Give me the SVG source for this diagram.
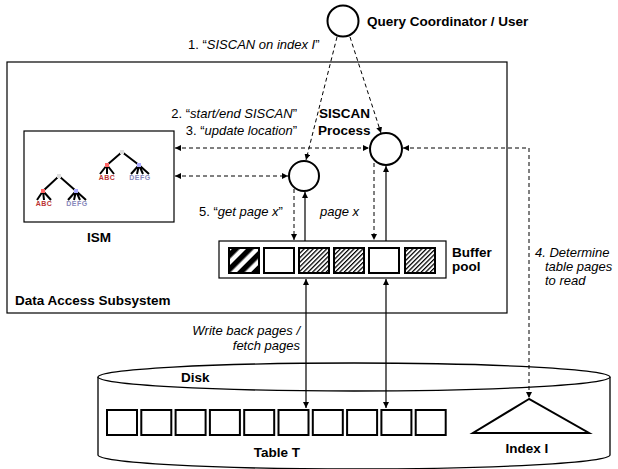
<svg xmlns="http://www.w3.org/2000/svg" width="618" height="469" viewBox="0 0 618 469">
  <style>
    text { font-family: "Liberation Sans", Arial, Helvetica, sans-serif; fill: #000; }
    .b { font-weight: bold; font-size: 13.5px; }
    .lbl { font-size: 13px; }
    .it { font-style: italic; }
    .box { fill: #fff; stroke: #000; stroke-width: 1.2; }
    .proc { fill: #fff; stroke: #000; stroke-width: 2; }
    .cell { stroke: #000; stroke-width: 2; }
    .dash { fill: none; stroke: #000; stroke-width: 1; stroke-dasharray: 4 3; }
    .solid { fill: none; stroke: #000; stroke-width: 1.2; }
    .br { stroke: #000; stroke-width: 2; fill: none; }
    .abc { font-size: 7px; font-weight: bold; fill: #b33; }
    .defg { font-size: 7px; font-weight: bold; fill: #88b; }
  </style>
  <defs>
    <marker id="ah" viewBox="0 0 6 6" refX="6" refY="3" markerWidth="6" markerHeight="6" markerUnits="userSpaceOnUse" orient="auto-start-reverse">
      <path d="M0,0 L6,3 L0,6 z" fill="#000"/>
    </marker>
    <pattern id="fine" patternUnits="userSpaceOnUse" width="3.2" height="3.2" patternTransform="rotate(45)">
      <rect width="3.2" height="3.2" fill="#fff"/>
      <line x1="0.6" y1="0" x2="0.6" y2="3.2" stroke="#000" stroke-width="1.3"/>
    </pattern>
    <pattern id="coarse" patternUnits="userSpaceOnUse" width="10" height="10" patternTransform="rotate(45)">
      <rect width="10" height="10" fill="#fff"/>
      <rect width="5.5" height="10" fill="#000"/>
    </pattern>
  </defs>

  <!-- Disk cylinder with table pages and index -->
  <g id="disk">
    <path d="M98,377 V455 A256,14 0 0 0 610,455 V377" fill="#fff" stroke="#000" stroke-width="1.3"/>
    <ellipse cx="354" cy="377" rx="256" ry="14" fill="#fff" stroke="#000" stroke-width="1.3"/>
    <text class="b" x="181" y="382">Disk</text>
  </g>

  <g id="table-t">
    <rect class="cell" x="107" y="410" width="30" height="25" fill="#fff"/>
    <rect class="cell" x="141.3" y="410" width="30" height="25" fill="#fff"/>
    <rect class="cell" x="175.6" y="410" width="30" height="25" fill="#fff"/>
    <rect class="cell" x="209.9" y="410" width="30" height="25" fill="#fff"/>
    <rect class="cell" x="244.2" y="410" width="30" height="25" fill="#fff"/>
    <rect class="cell" x="278.5" y="410" width="30" height="25" fill="#fff"/>
    <rect class="cell" x="312.8" y="410" width="30" height="25" fill="#fff"/>
    <rect class="cell" x="347.1" y="410" width="30" height="25" fill="#fff"/>
    <rect class="cell" x="381.4" y="410" width="30" height="25" fill="#fff"/>
    <rect class="cell" x="415.7" y="410" width="30" height="25" fill="#fff"/>
    <text class="b" x="277" y="457" text-anchor="middle">Table T</text>
  </g>

  <g id="index-i">
    <polygon points="529,399 473,433 589,433" fill="#fff" stroke="#000" stroke-width="2"/>
    <text class="b" x="527" y="453" text-anchor="middle">Index I</text>
  </g>

  <!-- Data access subsystem container -->
  <g id="data-access-subsystem">
    <rect class="box" x="7" y="62" width="500" height="251"/>
    <text class="b" x="15" y="305">Data Access Subsystem</text>
  </g>

  <!-- Index structure manager with two small trees -->
  <g id="ism">
    <rect class="box" x="24" y="131" width="150" height="91"/>
    <path class="br" d="M107,165 L122,152 L139,165 M107,165 L100,174 M107,165 L107,174 M107,165 L114,174 M139,165 L131,174 M139,165 L137,174 M139,165 L143,174 M139,165 L149,174"/>
    <rect x="120" y="150" width="4" height="4" fill="#ddd"/>
    <rect x="105" y="163" width="4" height="4" fill="#f66"/>
    <rect x="137" y="163" width="4" height="4" fill="#aaf"/>
    <text class="abc" x="107" y="180" text-anchor="middle" letter-spacing="0.5">ABC</text>
    <text class="defg" x="140" y="180" text-anchor="middle" letter-spacing="0.5">DEFG</text>
    <path class="br" d="M43,191 L59,176 L76,191 M43,191 L37,200 M43,191 L44,200 M43,191 L51,200 M76,191 L68,200 M76,191 L74,200 M76,191 L80,200 M76,191 L86,200"/>
    <rect x="57" y="174" width="4" height="4" fill="#ddd"/>
    <rect x="41" y="189" width="4" height="4" fill="#f66"/>
    <rect x="74" y="189" width="4" height="4" fill="#aaf"/>
    <text class="abc" x="44" y="206" text-anchor="middle" letter-spacing="0.5">ABC</text>
    <text class="defg" x="77" y="206" text-anchor="middle" letter-spacing="0.5">DEFG</text>
    <text class="b" x="99" y="242" text-anchor="middle">ISM</text>
  </g>

  <!-- Buffer pool frames -->
  <g id="buffer-pool">
    <rect class="box" x="219" y="241" width="227" height="37"/>
    <rect class="cell" x="229" y="248" width="30" height="25" fill="url(#coarse)"/>
    <rect class="cell" x="264" y="248" width="30" height="25" fill="#fff"/>
    <rect class="cell" x="299" y="248" width="30" height="25" fill="url(#fine)"/>
    <rect class="cell" x="334" y="248" width="30" height="25" fill="url(#fine)"/>
    <rect class="cell" x="369" y="248" width="30" height="25" fill="#fff"/>
    <rect class="cell" x="405" y="248" width="30" height="25" fill="url(#fine)"/>
    <text class="b" x="452" y="257">Buffer</text>
    <text class="b" x="452" y="271">pool</text>
  </g>

  <!-- Processes -->
  <g id="query-coordinator">
    <circle class="proc" cx="343" cy="21" r="15.5"/>
    <text class="b" x="367" y="26">Query Coordinator / User</text>
  </g>

  <g id="siscan-process-a">
    <circle class="proc" cx="304" cy="176" r="15"/>
  </g>

  <g id="siscan-process-b">
    <circle class="proc" cx="386" cy="149" r="16"/>
    <text class="b" x="319" y="118">SISCAN</text>
    <text class="b" x="318" y="135">Process</text>
  </g>

  <!-- Connectors -->
  <g id="connectors">
    <line class="dash" x1="337" y1="37" x2="306" y2="160" marker-end="url(#ah)"/>
    <line class="dash" x1="350" y1="37" x2="381" y2="133" marker-end="url(#ah)"/>
    <line class="dash" x1="175" y1="148" x2="369" y2="148" marker-start="url(#ah)" marker-end="url(#ah)"/>
    <line class="dash" x1="175" y1="176" x2="288" y2="176" marker-start="url(#ah)" marker-end="url(#ah)"/>
    <path class="dash" d="M403,148 H529 V398" marker-start="url(#ah)" marker-end="url(#ah)"/>
    <line class="dash" x1="294" y1="189" x2="294" y2="240" marker-end="url(#ah)"/>
    <line class="solid" x1="305" y1="241" x2="305" y2="192" marker-end="url(#ah)"/>
    <line class="dash" x1="374" y1="163" x2="374" y2="240" marker-end="url(#ah)"/>
    <line class="solid" x1="386" y1="241" x2="386" y2="166" marker-end="url(#ah)"/>
    <line class="solid" x1="306" y1="279" x2="306" y2="408" marker-start="url(#ah)" marker-end="url(#ah)"/>
    <line class="solid" x1="386" y1="279" x2="386" y2="408" marker-start="url(#ah)" marker-end="url(#ah)"/>
  </g>

  <!-- Step labels -->
  <g id="labels">
    <text class="lbl" x="188" y="49">1. “<tspan class="it">SISCAN on index I</tspan>”</text>
    <text class="lbl" x="297" y="118" text-anchor="end">2. “<tspan class="it">start/end SISCAN</tspan>”</text>
    <text class="lbl" x="297" y="135" text-anchor="end">3. “<tspan class="it">update location</tspan>”</text>
    <text class="lbl" x="199" y="216">5. “<tspan class="it">get page x</tspan>”</text>
    <text class="lbl it" x="320" y="216">page x</text>
    <text class="lbl it" x="535" y="257">4. Determine</text>
    <text class="lbl it" x="545" y="271">table pages</text>
    <text class="lbl it" x="545" y="285">to read</text>
    <text class="lbl it" x="300" y="335" text-anchor="end">Write back pages /</text>
    <text class="lbl it" x="300" y="350" text-anchor="end">fetch pages</text>
  </g>
</svg>
